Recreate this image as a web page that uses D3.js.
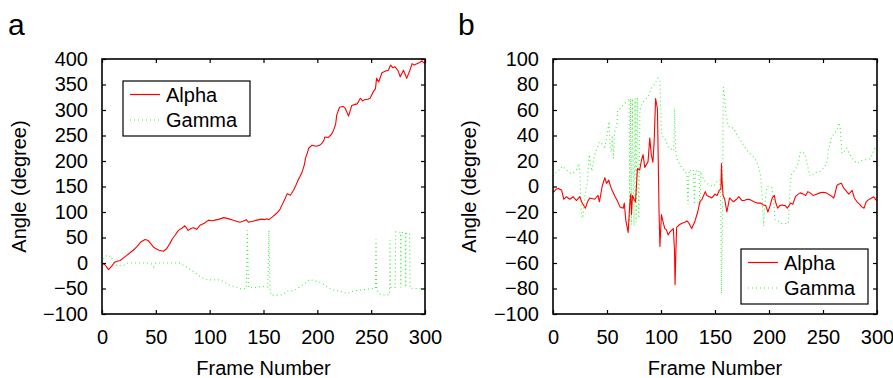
<!DOCTYPE html>
<html>
<head>
<meta charset="utf-8">
<script src="https://cdn.jsdelivr.net/npm/d3@7"></script>
<style>
  body { margin: 0; background: #fff; }
  svg { display: block; font-family: Arial, "Liberation Sans", Helvetica, sans-serif; }
</style>
</head>
<body>
<svg id="chart" width="893" height="378"></svg>
<script>
// ---------- DATA ----------
const xTicks = [0, 50, 100, 150, 200, 250, 300];
const yTicksA = [-100, -50, 0, 50, 100, 150, 200, 250, 300, 350, 400];
const yTicksB = [-100, -80, -60, -40, -20, 0, 20, 40, 60, 80, 100];
const seriesNames = ["Alpha", "Gamma"];
const panelLabels = ["a", "b"];

// Panel a: Alpha [frame, angle]
const alphaA = [
  [0,0],[3,-4],[6,-13],[9,-6],[12,2],[15,4],[17,5],[20,10],[23,15],[26,20],[29,25],[32,31],
  [36,41],[40,46],[43,44],[46,36],[48,31],[51,27],[53,25],[57,23],[60,28],[63,38],[65,46],
  [68,55],[71,64],[74,68],[77,73],[80,64],[83,68],[85,69],[88,66],[91,74],[95,78],[99,84],
  [102,83],[105,84],[109,86],[113,89],[117,87],[122,84],[125,82],[128,80],[131,82],[134,85],
  [136,80],[140,82],[144,84],[148,86],[151,85],[153,87],[155,85],[158,90],[162,97],[165,104],
  [167,113],[170,126],[172,136],[175,133],[178,143],[180,152],[182,162],[184,170],[186,179],
  [188,193],[189,205],[191,218],[192,225],[195,231],[199,229],[202,231],[204,234],[206,240],
  [207,247],[210,246],[213,252],[215,260],[217,272],[218,290],[220,302],[221,306],[224,307],
  [226,303],[229,288],[232,309],[235,311],[237,312],[240,323],[242,318],[244,320],[247,321],
  [249,323],[252,336],[254,342],[255,362],[257,355],[260,373],[264,377],[266,378],[268,388],
  [270,383],[272,385],[275,377],[277,365],[280,378],[283,362],[286,378],[288,391],[290,388],
  [292,390],[295,393],[297,396],[300,391]
];
// Panel a: Gamma [frame, angle]
const gammaA = [
  [0,0],[2,10],[4,14],[6,12],[8,14],[10,5],[12,-2],[15,-6],[18,-4],[21,-4],[24,0],[30,0],
  [36,0],[42,0],[46,-2],[48,-8],[50,0],[56,0],[62,0],[68,0],[72,0],[76,-5],[80,-10],
  [83,-14],[87,-20],[90,-25],[93,-29],[97,-32],[100,-33],[105,-33],[110,-33],[114,-38],
  [117,-42],[121,-45],[125,-48],[130,-51],[134,-50],[135,64],[136,-48],[140,-48],[145,-47],
  [150,-46],[154,-47],[155,64],[156,-48],[157,-63],[160,-63],[165,-63],[168,-62],[172,-55],
  [176,-55],[180,-52],[185,-45],[190,-38],[193,-32],[197,-35],[203,-38],[208,-45],[212,-50],
  [216,-54],[221,-55],[225,-58],[228,-60],[232,-56],[236,-54],[240,-53],[244,-52],[248,-51],
  [252,-50],[254,-50],[254.5,46],[255,-50],[257,-60],[260,-62],[264,-63],[266,-62],
  [267,-62],[267.5,45],[268,-48],[272.3,-48],[272.8,61],[277.3,60],[277.6,-48],[277.9,60],
  [281.8,59],[282.1,-48],[282.4,58],[285.7,58],[286,-49],[290,-50],[295,-50],[300,-50]
];
// Panel b: Alpha [frame, angle]
const alphaB = [
  [0,-4],[1,-4],[3,-2],[5,-1.5],[8,-3],[10,-10],[12.5,-8],[15.5,-10],[18.6,-8],[21.7,-11],
  [24.8,-8],[27,-13],[30,-17],[32,-12],[34,-9],[38.6,-10],[41.7,-7],[43,-12],[45.5,0],
  [48,7],[49.5,2.5],[51.6,5],[53,1],[54,-1.5],[57,-7],[60,-12],[62,-16],[65,-17],[66,-13],
  [67.5,-27],[69.6,-36],[71,-15],[72,-6],[72.7,-22],[73.6,-7],[75,-10],[76.4,-12],[78.2,14],
  [80.3,13],[82,21],[83.4,25],[85,15],[88,19.5],[89.6,38],[91,25],[92.5,19],[93.6,34],
  [95,69],[96.7,61],[98.2,-20],[99,-47],[100.4,-22],[102,-28],[103.5,-33],[105,-34],
  [106.7,-38],[108,-36],[109,-35],[111.4,-33],[112.5,-50],[113,-77],[114,-45],[114.5,-32],
  [117,-30],[119,-29],[122,-28],[124,-27],[126,-29],[128.5,-33],[130,-30],[131.5,-27],
  [134,-20],[136,-12],[138,-10],[141,-4],[142.5,-7],[145,-8],[147,-9],[150,-6],[152,-7],
  [154,-3],[155.5,-2],[156,18],[156.5,5],[157.5,-7],[159,-10],[161,-20],[163.5,-9],[167,-12],
  [170,-10],[172,-8],[175,-11],[177,-11],[180,-10],[183,-10.5],[186,-12],[189,-13],[192,-13],
  [195,-14.5],[197,-15],[199,-20],[201,-15],[203,-9],[205,-7],[206,-12],[208,-17],[210,-15],
  [212,-14.5],[215,-15],[217,-17],[220,-13],[222,-14],[224.5,-8],[227,-6],[229,-5],[232,-6],
  [234,-7],[236,-4],[238,-5],[241,-7],[244,-6],[247,-5],[250,-4.5],[253,-5],[257,-7],
  [260,-9],[261,-6],[263,1],[265,2],[267,2.5],[269,-1],[272,-4],[274,-6],[277,-3],[279,-9],
  [281.5,-12],[284,-14],[286,-16],[288,-17],[290,-12],[292,-10.5],[295,-9],[297,-8],[299,-10.5],[300,-11]
];
// Panel b: Gamma [frame, angle]
const gammaB = [
  [0,8],[1,9],[3,11],[4.7,12],[7,14],[9,16],[11,14],[12.5,13],[15,11],[17,10],[19,11],
  [21.7,13],[24,18],[25,10],[26,-17],[27,-25],[28,-22],[29.5,-7],[31,0],[32,4],[33.5,25],
  [34.5,18],[36,12],[37.5,20],[38.6,25],[41,30],[43,35],[46,33],[48,31],[50,40],[52,51],
  [53,30],[54,27],[55,40],[56,22],[57,42],[59,48],[60,60],[62,61],[65,64],[67.5,66],[69.6,68],
  [70.5,69],[71,-28],[71.8,69],[72.7,-30],[73.5,69],[75,-31],[76,69],[77,-28],[78,70],
  [79.5,-25],[80.5,60],[82,64],[85,68],[88,70.6],[91,77],[94,80],[97,85],[99,84],[100.4,40],
  [103.5,38],[106.7,31],[110,29],[112,28],[112.5,61],[113.5,30],[114.5,22],[117.6,17],
  [120,14],[122,12],[124,10],[125,-14],[126,13],[128,12],[130,13],[131,-14],[132,12],
  [135,13],[136,-14],[137,10],[140,5],[142,3],[145,1],[148.5,0],[152,4],[154.6,5],
  [155.5,-20],[156,-84],[156.8,-40],[157.7,78],[159,70],[160,58],[162,48],[164,46],
  [167,46],[170,41],[173,37],[176,33],[179,29],[182,26],[185.6,23.5],[188,20],[190,16],
  [192,10],[193,0],[194,-15],[195,-31],[196,-15],[198,0],[200,0],[202.6,-1],[204,-10],
  [205.7,-26],[208.8,-27],[211,-29],[213,-29],[216,-29],[218,-29],[219,-10],[220,5],[221,10],
  [224,13],[227,18],[229,27],[231,27],[233.5,25],[236,15],[238,8],[240,9],[243,10.5],
  [245,12],[247.5,12],[250,14],[252,16],[254,20],[255,29],[257,35],[258,39],[261,42],
  [263,44],[265,50],[266,45],[267.5,26],[270,28],[272,30],[275,25],[278,21],[281.5,18],
  [285,20],[287.7,21],[291,21],[294,22],[297,28],[298.5,31],[300,30]
];

const panels = [
  { label: panelLabels[0], alpha: alphaA, gamma: gammaA, yTicks: yTicksA, yDomain: [-100, 400],
    x0: 102, x1: 425, legend: { x: 123, y: 81 }, titleX: 26, letterX: 8 },
  { label: panelLabels[1], alpha: alphaB, gamma: gammaB, yTicks: yTicksB, yDomain: [-100, 100],
    x0: 553, x1: 877, legend: { x: 741, y: 249 }, titleX: 476, letterX: 458 }
];
const yTop = 59, yBot = 314;
const colors = { Alpha: "#ff0000", Gamma: "#3cf03c" };
const gammaDash = "1,3";

const svg = d3.select("#chart");
const fontSize = 20;

panels.forEach(p => {
  const g = svg.append("g");
  const x = d3.scaleLinear().domain([0, 300]).range([p.x0, p.x1]);
  const y = d3.scaleLinear().domain(p.yDomain).range([yBot, yTop]);

  const clipId = "clip-" + p.label;
  svg.append("clipPath").attr("id", clipId)
    .append("rect").attr("x", p.x0).attr("y", yTop).attr("width", p.x1 - p.x0).attr("height", yBot - yTop);

  const line = d3.line().x(d => x(d[0])).y(d => y(d[1]));

  const plot = g.append("g").attr("clip-path", `url(#${clipId})`);
  plot.append("path").datum(p.gamma)
    .attr("d", line).attr("fill", "none")
    .attr("stroke", colors.Gamma).attr("stroke-width", 1.1)
    .attr("stroke-dasharray", gammaDash);
  plot.append("path").datum(p.alpha)
    .attr("d", line).attr("fill", "none")
    .attr("stroke", colors.Alpha).attr("stroke-width", 1.1)
    .attr("stroke-linejoin", "round");

  // Axes (inward ticks on all sides)
  const styleAxis = sel => {
    sel.select(".domain").remove();
    sel.selectAll(".tick line").attr("stroke", "#000").attr("stroke-width", 1.2);
    sel.selectAll("text").attr("font-size", fontSize).attr("fill", "#000")
      .attr("font-family", 'Arial, "Liberation Sans", Helvetica, sans-serif');
  };
  g.append("g").attr("transform", `translate(0,${yBot})`)
    .call(d3.axisBottom(x).tickValues(xTicks).tickSize(-4).tickPadding(16).tickFormat(d3.format("d")))
    .call(styleAxis);
  g.append("g").attr("transform", `translate(0,${yTop})`)
    .call(d3.axisTop(x).tickValues(xTicks).tickSize(-4).tickFormat(""))
    .call(styleAxis);
  g.append("g").attr("transform", `translate(${p.x0},0)`)
    .call(d3.axisLeft(y).tickValues(p.yTicks).tickSize(-4).tickPadding(14).tickFormat(d3.format("d")))
    .call(styleAxis);
  g.append("g").attr("transform", `translate(${p.x1},0)`)
    .call(d3.axisRight(y).tickValues(p.yTicks).tickSize(-4).tickFormat(""))
    .call(styleAxis);

  // Frame
  g.append("rect").attr("x", p.x0).attr("y", yTop)
    .attr("width", p.x1 - p.x0).attr("height", yBot - yTop)
    .attr("fill", "none").attr("stroke", "#000").attr("stroke-width", 1.6);

  // Axis titles
  g.append("text").attr("x", (p.x0 + p.x1) / 2).attr("y", 375)
    .attr("text-anchor", "middle").attr("font-size", fontSize).text("Frame Number");
  g.append("text")
    .attr("transform", `translate(${p.titleX},${(yTop + yBot) / 2}) rotate(-90)`)
    .attr("text-anchor", "middle").attr("font-size", fontSize).text("Angle (degree)");

  // Panel letter
  g.append("text").attr("x", p.letterX).attr("y", 35)
    .attr("font-size", 30).text(p.label);

  // Legend
  const lg = g.append("g").attr("transform", `translate(${p.legend.x},${p.legend.y})`);
  lg.append("rect").attr("width", 127).attr("height", 55)
    .attr("fill", "#fff").attr("stroke", "#000").attr("stroke-width", 1.2);
  seriesNames.forEach((name, i) => {
    const ly = 13.5 + i * 25.5;
    const ln = lg.append("line").attr("x1", 7).attr("x2", 37).attr("y1", ly).attr("y2", ly)
      .attr("stroke", colors[name]).attr("stroke-width", 1.2);
    if (name === "Gamma") ln.attr("stroke-dasharray", gammaDash);
    lg.append("text").attr("x", 43).attr("y", ly + 7).attr("font-size", fontSize).text(name);
  });
});
</script>
</body>
</html>
